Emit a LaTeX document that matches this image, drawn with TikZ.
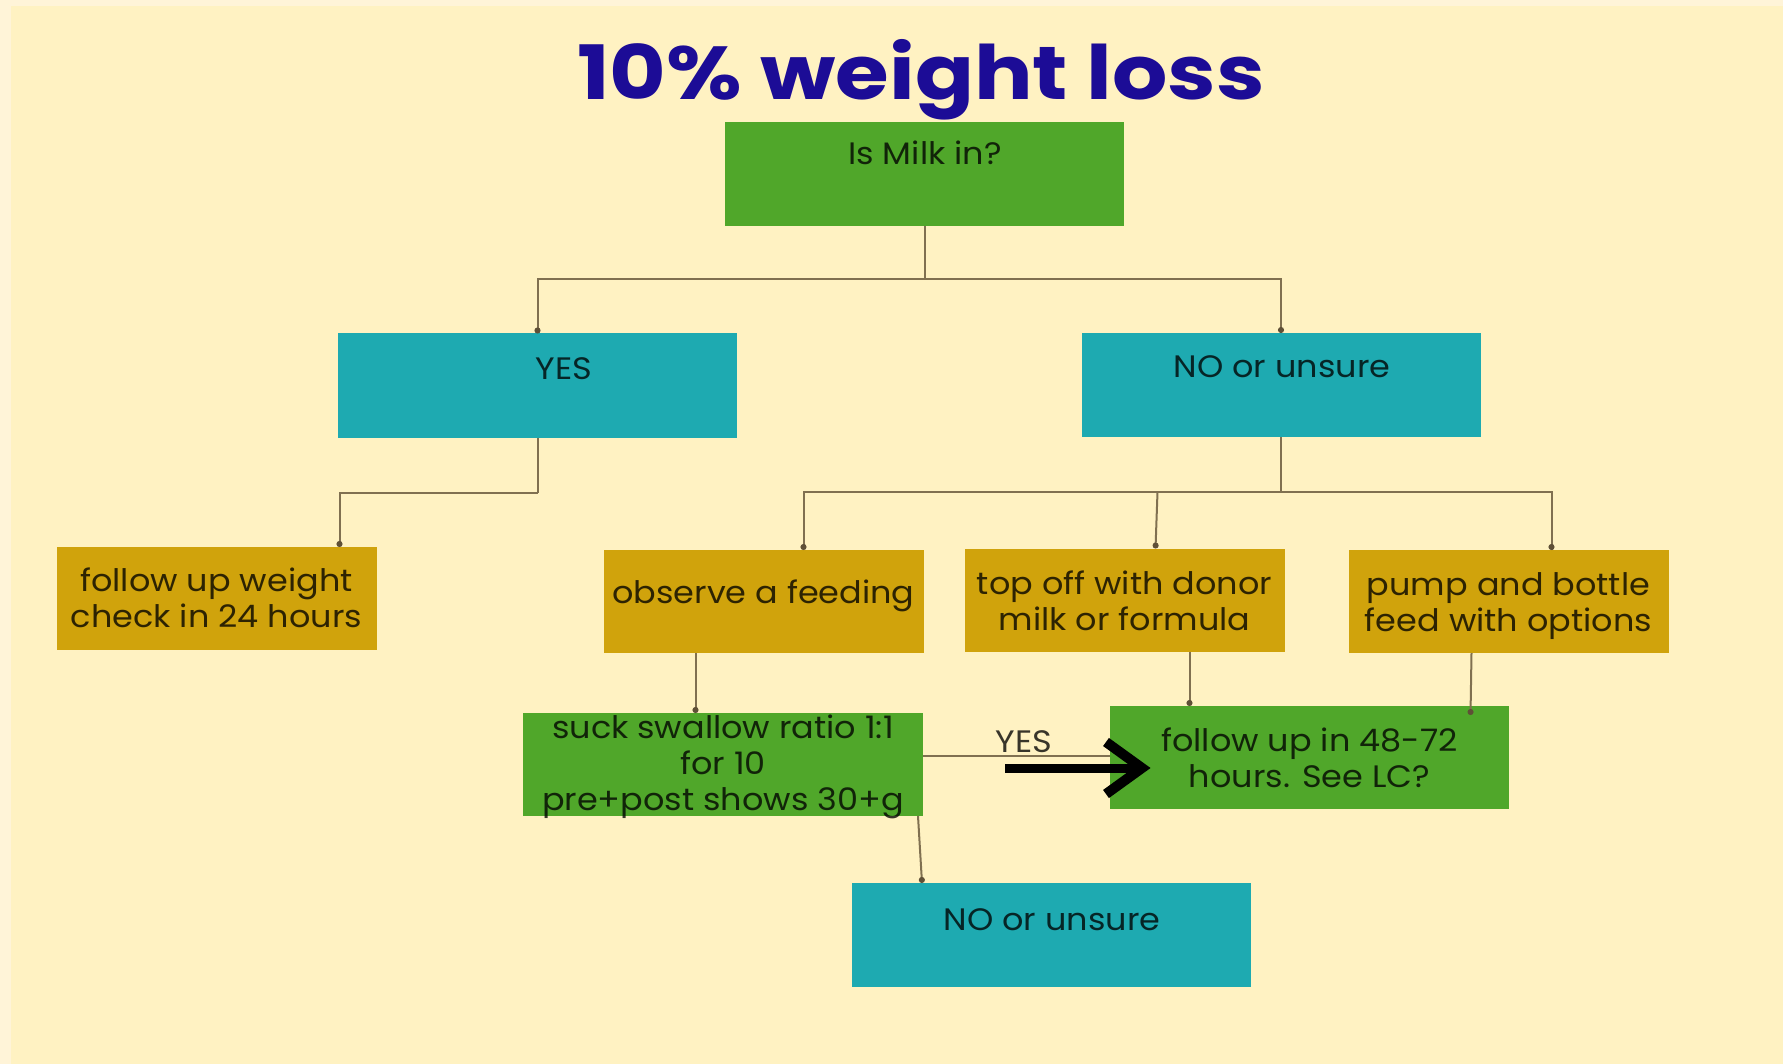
\documentclass[tikz,border=0pt]{standalone}
\usepackage{fontspec}
\setmainfont{Poppins}[FakeStretch=1.08]
\newfontfamily\titlefont{Poppins}[FakeStretch=1.16]
\usetikzlibrary{arrows.meta}
\definecolor{bgc}{RGB}{255,242,194}
\definecolor{edgec}{RGB}{255,244,216}
\definecolor{greenc}{RGB}{80,167,42}
\definecolor{tealc}{RGB}{30,170,177}
\definecolor{mustc}{RGB}{208,163,12}
\definecolor{titlec}{RGB}{28,12,150}
\definecolor{linec}{RGB}{128,112,80}
\definecolor{dotc}{RGB}{95,80,55}
\begin{document}
\begin{tikzpicture}[x=1pt,y=-1pt,
  bigbox/.style={rectangle, inner sep=0pt, outer sep=0pt, minimum width=399pt, minimum height=104pt, fill=#1},
  smallbox/.style={rectangle, inner sep=0pt, outer sep=0pt, minimum width=320pt, minimum height=103pt, fill=#1},
  txt/.style={inner sep=0pt, align=center, font=\fontsize{31}{36}\selectfont, text=black, text opacity=0.78},
  conn/.style={draw=linec, line width=2pt},
  dotted end/.style={-{Circle[length=6pt, fill=dotc, color=dotc]}},
  bigarrow/.style={draw=black, line width=9pt}]
% background
\fill[edgec] (0,0) rectangle (1783,1064);
\fill[bgc] (11,6) rectangle (1783,1064);
\useasboundingbox (0,0) rectangle (1783,1064);
% title
\node[anchor=base, inner sep=0pt, text=titlec, font=\titlefont\bfseries\fontsize{75}{80}\selectfont] (title) at (921,100) {10\% weight loss};
% boxes
\node[bigbox=greenc] (milk) at (924.5,174) {};
\node[bigbox=tealc] (yes) at (537.5,385.5) {};
\node[bigbox=tealc] (no) at (1281,385) {};
\node[smallbox=mustc] (fuw) at (216.5,598.5) {};
\node[smallbox=mustc] (obs) at (763.5,601.5) {};
\node[smallbox=mustc] (top) at (1124.5,600) {};
\node[smallbox=mustc] (pump) at (1508.5,601.5) {};
\node[bigbox=greenc, minimum width=400pt, minimum height=103pt] (suck) at (723,764.5) {};
\node[bigbox=greenc, minimum height=103pt] (fu) at (1309.5,757.5) {};
\node[bigbox=tealc] (no2) at (1051.5,935) {};
% texts
\node[txt, anchor=base] (tmilk) at (925,165) {Is Milk in?};
\node[txt, anchor=base] (tyes) at (564,380) {YES};
\node[txt, anchor=base] (tno) at (1282,378) {NO or unsure};
\node[txt] (tfuw) at (216.5,598) {follow up weight\\check in 24 hours};
\node[txt, anchor=base] (tobs) at (763.5,603) {observe a feeding};
\node[txt] (ttop) at (1124.5,601) {top off with donor\\milk or formula};
\node[txt] (tpump) at (1508.5,606) {pump and bottle\\feed with options};
\node[txt] (tsuck) at (723,767) {suck swallow ratio 1:1\\for 10\\pre+post shows 30+g};
\node[txt] (tfu) at (1309.5,758) {follow up in 48-72\\hours. See LC?};
\node[txt, anchor=base] (tno2) at (1052,930) {NO or unsure};
% connectors
\draw[conn] (milk.south) -- ++(0,53) coordinate (j1);
\draw[conn, dotted end] (j1) -| (yes.north);
\draw[conn, dotted end] (j1) -| (no.north);
\draw[conn] (yes.south) -- ++(0,55) coordinate (j2);
\draw[conn, dotted end] (j2) -| ([xshift=-37pt]fuw.north east);
\draw[conn] (no.south) -- ++(0,55) coordinate (j3);
\draw[conn, dotted end] (j3) -| ([xshift=-120pt]obs.north east);
\draw[conn] (j3) -| ([xshift=-117pt]pump.north east);
\coordinate (p4) at ([xshift=-117pt]pump.north east);
\draw[conn, dotted end] ([xshift=-117pt]pump.north east |- j3) -- (p4);
\draw[conn, dotted end] ([xshift=193pt]top.north west |- j3) -- ([xshift=191pt]top.north west);
\draw[conn, dotted end] ([xshift=92pt]obs.south west) -- ([xshift=92pt]obs.south west |- suck.north);
\draw[conn, dotted end] ([xshift=225pt]top.south west) -- ([xshift=225pt]top.south west |- fu.north);
\draw[conn, dotted end] ([xshift=123pt]pump.south west) -- ([xshift=122pt,yshift=-9pt]pump.south west |- fu.north);
\draw[conn] ([yshift=9pt]suck.east) -- ([yshift=9pt]suck.east -| fu.west);
\draw[conn, dotted end] ([xshift=-5pt]suck.south east) -- ([xshift=70pt]no2.north west);
\node[txt, anchor=base] (tyeslab) at (1024,752) {YES};
% big black arrow
\coordinate (a0) at (1005,768);
\coordinate (a1) at (1136,768);
\coordinate (c0) at (1106,742);
\coordinate (c1) at (1142,768);
\coordinate (c2) at (1106,794);
\draw[bigarrow] (a0) -- (a1);
\draw[draw=black, line width=10pt, miter limit=3] (c0) -- (c1) -- (c2);
\end{tikzpicture}
\end{document}
